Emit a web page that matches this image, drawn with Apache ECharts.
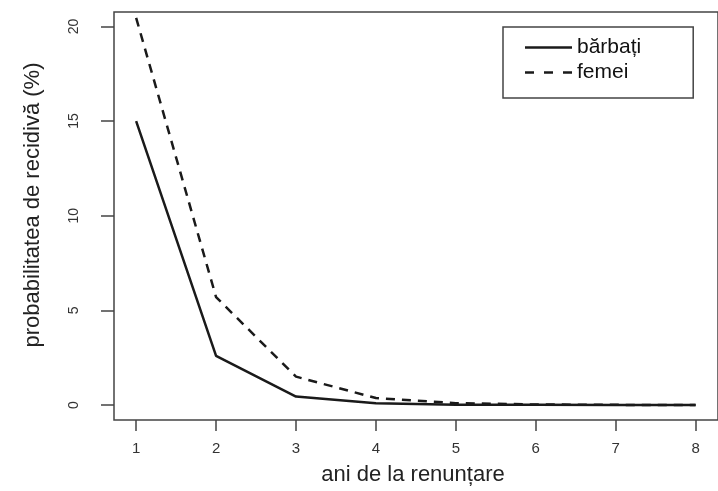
<!DOCTYPE html>
<html>
<head>
<meta charset="utf-8">
<script src="https://cdn.jsdelivr.net/npm/echarts@6/dist/echarts.min.js"></script>
<style>html,body{margin:0;padding:0;background:#fff}#c{width:718px;height:491px}</style>
</head>
<body>
<div id="c"></div>
<script>
var years = [1, 2, 3, 4, 5, 6, 7, 8];
var barbati = [15, 2.6, 0.45, 0.09, 0.02, 0.01, 0, 0];
var femei = [20.45, 5.7, 1.5, 0.37, 0.1, 0.03, 0.01, 0];
var yTicks = [0, 5, 10, 15, 20];
var seriesNames = ['bărbați', 'femei'];
var xTitle = 'ani de la renunțare';
var yTitle = 'probabilitatea de recidivă (%)';

function pairs(v) { return years.map(function (x, i) { return [x, v[i]]; }); }

var font = '"Liberation Sans", Arial, Helvetica, sans-serif';
var chart = echarts.init(document.getElementById('c'), null, { renderer: 'canvas' });
chart.setOption({
  animation: false,
  backgroundColor: '#fff',
  textStyle: { fontFamily: font },
  grid: {
    left: 114, top: 12, right: -10.5, bottom: 68.3,
    show: true, borderColor: '#444', borderWidth: 1.5, backgroundColor: 'transparent'
  },
  xAxis: {
    type: 'value', min: 0.723, max: 8.28,
    axisLine: { show: false, onZero: false },
    splitLine: { show: false },
    axisTick: { show: true, length: 11, customValues: years, lineStyle: { color: '#444', width: 1.5 } },
    axisLabel: { customValues: years, margin: 21, fontSize: 15, color: '#333', fontFamily: font },
    name: xTitle, nameLocation: 'middle', nameGap: 44,
    nameTextStyle: { fontSize: 22, color: '#222', fontFamily: font, padding: [0, 0, 0, -6] }
  },
  yAxis: {
    type: 'value', min: -0.79, max: 20.76,
    axisLine: { show: false, onZero: false },
    splitLine: { show: false },
    axisTick: { show: true, length: 13, customValues: yTicks, lineStyle: { color: '#444', width: 1.5 } },
    axisLabel: { customValues: yTicks, rotate: 90, margin: 33, fontSize: 14, color: '#333', fontFamily: font }
  },
  graphic: [{
    type: 'text', x: 33, y: 205, rotation: Math.PI / 2,
    style: { text: yTitle, fill: '#222', font: '22px ' + font, align: 'center', verticalAlign: 'middle' }
  }],
  legend: {
    left: 503, top: 27, orient: 'vertical',
    padding: [10, 52, 15, 22],
    itemWidth: 47, itemHeight: 2.5, itemGap: 4,
    symbolKeepAspect: false,
    borderColor: '#444', borderWidth: 1.5, borderRadius: 0,
    textStyle: { fontSize: 21, color: '#111', fontFamily: font },
    data: [
      { name: seriesNames[0], icon: 'rect' },
      { name: seriesNames[1], icon: 'path://M0 0h9v1H0z M19 0h9v1H19z M38 0h9v1H38z' }
    ]
  },
  series: [
    {
      name: seriesNames[0], type: 'line', symbol: 'none',
      data: pairs(barbati),
      lineStyle: { color: '#1a1a1a', width: 2.5, type: 'solid' },
      itemStyle: { color: '#1a1a1a' }
    },
    {
      name: seriesNames[1], type: 'line', symbol: 'none',
      data: pairs(femei),
      lineStyle: { color: '#1a1a1a', width: 2.5, type: [9, 7] },
      itemStyle: { color: '#1a1a1a' }
    }
  ]
});
</script>
</body>
</html>
